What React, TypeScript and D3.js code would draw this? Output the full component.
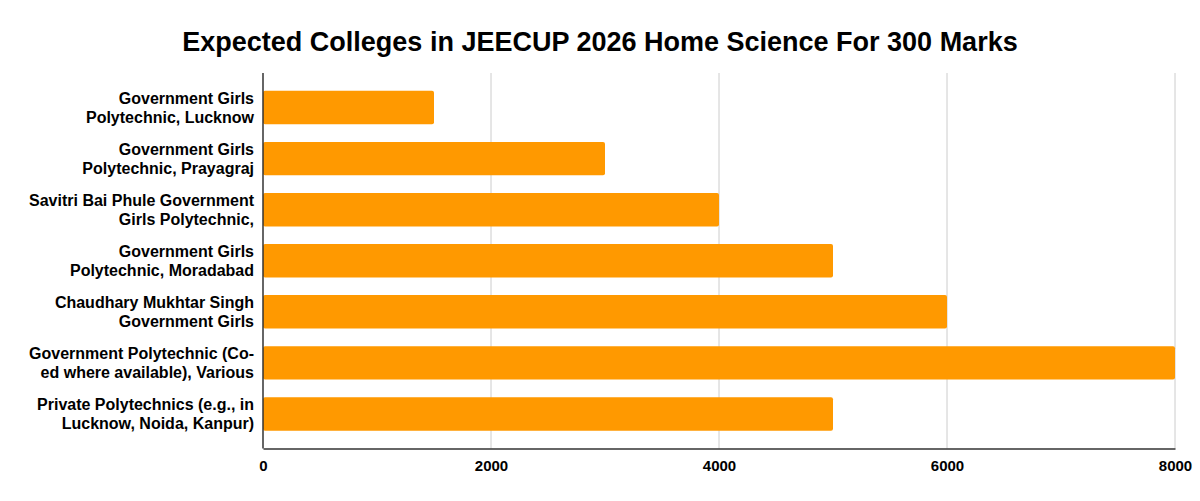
import React, { useLayoutEffect, useRef } from "react";
import { axisBottom, scaleBand, scaleLinear, select } from "d3";

const colleges = [
  ["Government Girls", "Polytechnic, Lucknow"],
  ["Government Girls", "Polytechnic, Prayagraj"],
  ["Savitri Bai Phule Government", "Girls Polytechnic,"],
  ["Government Girls", "Polytechnic, Moradabad"],
  ["Chaudhary Mukhtar Singh", "Government Girls"],
  ["Government Polytechnic (Co-", "ed where available), Various"],
  ["Private Polytechnics (e.g., in", "Lucknow, Noida, Kanpur)"],
];
const ranks = [1500, 3000, 4000, 5000, 6000, 8000, 5000];
const ticks = [0, 2000, 4000, 6000, 8000];

const W = 1200;
const H = 501;
const FONT = "Arial, 'Liberation Sans', sans-serif";

const App: React.FC = () => {
  const ref = useRef<SVGSVGElement>(null);

  useLayoutEffect(() => {
    const svg = select(ref.current);
    svg.selectAll("*").remove();

    const left = 263;
    const right = 1175;
    const top = 73;
    const bottom = 448.5;

    const x = scaleLinear().domain([0, 8000]).range([left, right]);
    const y = scaleBand<number>()
      .domain(colleges.map((_, i) => i))
      .range([top, bottom])
      .paddingInner(0.346)
      .paddingOuter(0.35);

    svg
      .append("text")
      .attr("x", 600)
      .attr("y", 51)
      .attr("text-anchor", "middle")
      .style("font-family", FONT)
      .style("font-weight", "bold")
      .style("font-size", "27px")
      .attr("fill", "#000")
      .text("Expected Colleges in JEECUP 2026 Home Science For 300 Marks");

    // gridlines
    svg
      .append("g")
      .selectAll("line")
      .data(ticks.slice(1))
      .enter()
      .append("line")
      .attr("x1", (d) => x(d))
      .attr("x2", (d) => x(d))
      .attr("y1", top)
      .attr("y2", bottom)
      .attr("stroke", "#cccccc")
      .attr("stroke-width", 1);

    // bars
    svg
      .append("g")
      .selectAll("rect")
      .data(ranks)
      .enter()
      .append("rect")
      .attr("x", x(0))
      .attr("y", (_, i) => y(i) as number)
      .attr("width", (d) => x(d) - x(0))
      .attr("height", y.bandwidth())
      .attr("rx", 2)
      .attr("fill", "#ff9900");

    // category labels
    const labels = svg
      .append("g")
      .selectAll("text")
      .data(colleges)
      .enter()
      .append("text")
      .attr("text-anchor", "end")
      .style("font-family", FONT)
      .style("font-weight", "bold")
      .style("font-size", "16px")
      .attr("fill", "#000");
    labels
      .selectAll("tspan")
      .data((d, i) => d.map((line, j) => ({ line, j, i })))
      .enter()
      .append("tspan")
      .attr("x", 254)
      .attr(
        "y",
        (d) => (y(d.i) as number) + y.bandwidth() / 2 - 3.5 + d.j * 19
      )
      .text((d) => d.line);

    // axes lines
    svg
      .append("line")
      .attr("x1", left)
      .attr("x2", left)
      .attr("y1", top)
      .attr("y2", bottom)
      .attr("stroke", "#333")
      .attr("stroke-width", 1.5);

    const xAxis = svg
      .append("g")
      .attr("transform", `translate(0, ${bottom})`)
      .call(axisBottom(x).tickValues(ticks).tickSize(0).tickPadding(12).tickFormat((d) => String(d)));
    xAxis.select(".domain").attr("stroke", "#333").attr("stroke-width", 1.5);
    xAxis
      .selectAll("text")
      .style("font-family", FONT)
      .style("font-weight", "bold")
      .style("font-size", "15px")
      .attr("fill", "#000");
  }, []);

  return (
    <svg
      ref={ref}
      width={W}
      height={H}
      style={{ position: "absolute", left: 0, top: 0, background: "#fff" }}
    />
  );
};

export default App;
